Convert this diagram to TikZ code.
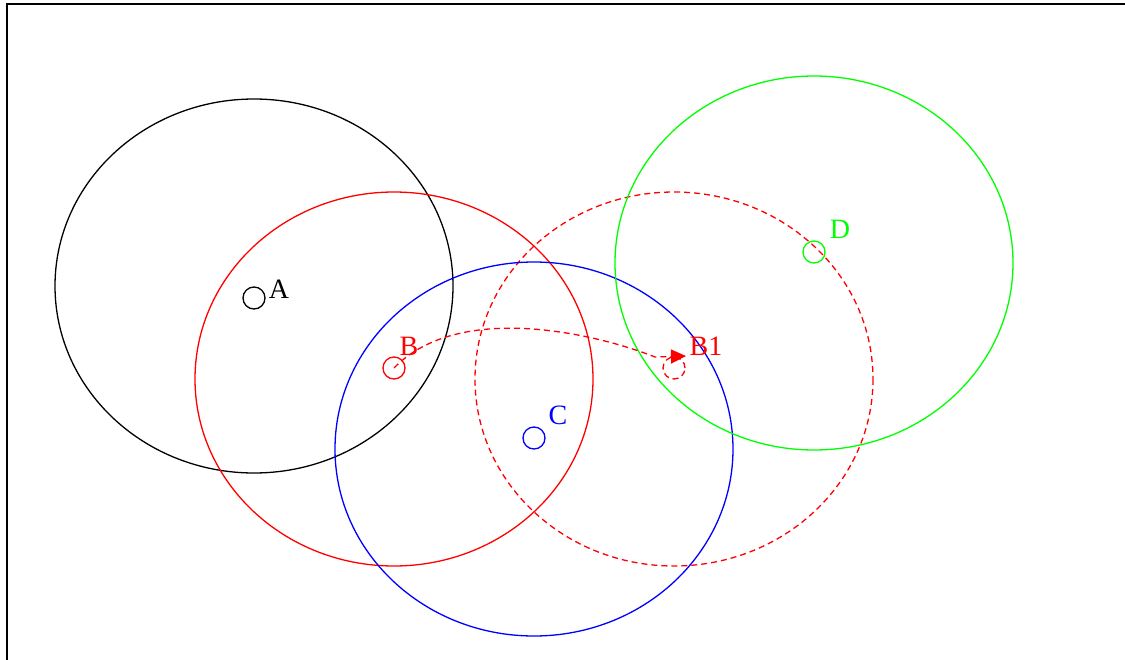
\documentclass[tikz,border=0pt]{standalone}
\usepackage{fontspec}
\setmainfont{Liberation Serif}
\usetikzlibrary{arrows.meta}
\definecolor{dgreen}{RGB}{0,255,0}
\tikzset{
  big/.style={line width=1.3pt},
  dot/.style={circle, draw, line width=1.3pt, minimum size=22pt, inner sep=0pt},
  lbl/.style={font=\fontsize{28}{28}\selectfont, inner sep=0pt},
  dsh/.style={dash pattern=on 6pt off 4pt}
}
\begin{document}
\begin{tikzpicture}[x=1pt,y=-1pt]
\useasboundingbox (0,0) rectangle (1125,659);
\begin{scope}
\clip (0,0) rectangle (1125,659);
\draw[line width=2pt] (7,4) rectangle (1140,680);
\end{scope}
% big circles
\draw[big] (254,286) ellipse [x radius=199, y radius=187];
\draw[big,red] (394,379) ellipse [x radius=199, y radius=187];
\draw[big,red,dsh] (674,379) ellipse [x radius=199, y radius=187];
\draw[big,blue] (534,449) ellipse [x radius=199, y radius=187];
\draw[big,dgreen] (814,263) ellipse [x radius=199, y radius=187];
% small nodes
\node[dot] (a) at (254,298) {};
\node[dot,red] (b) at (394,368) {};
\node[dot,red,dsh] (b1) at (674,368) {};
\node[dot,blue] (c) at (534,438) {};
\node[dot,dgreen] (d) at (814,252) {};
% labels
\node[lbl] (la) at (279,289) {A};
\node[lbl,red] (lb) at (409,346) {B};
\node[lbl,red] (lb1) at (706,346) {B1};
\node[lbl,blue] (lc) at (558,415) {C};
\node[lbl,dgreen] (ld) at (840,229) {D};
% move arrow
\coordinate (bend) at (655,357);
\coordinate (tip) at (686,356);
\draw[big,red,dsh,-{Triangle[length=15pt,width=14pt]}] (b.center) .. controls (460,300) and (600,335) .. (bend) -- (tip);
\end{tikzpicture}
\end{document}
